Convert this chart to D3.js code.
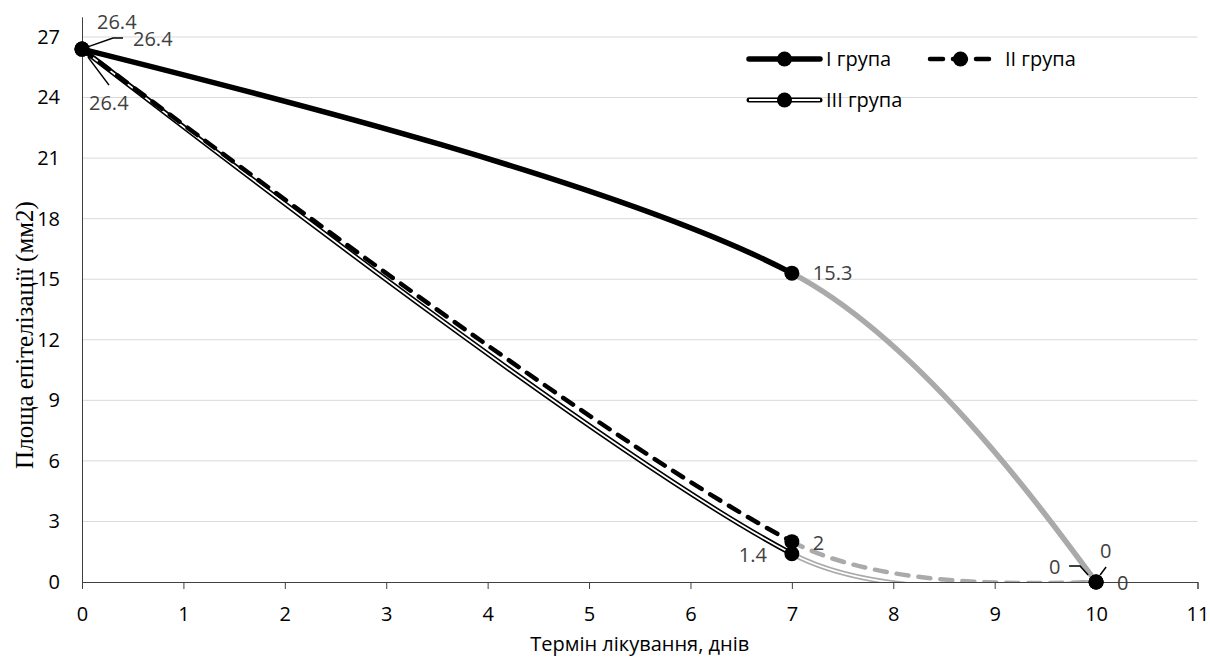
<!DOCTYPE html>
<html>
<head>
<meta charset="UTF-8">
<title>Площа епітелізації</title>
<script src="https://cdn.jsdelivr.net/npm/d3@7"></script>
<style>
body{margin:0;background:#fff;}
text{font-family:"Open Sans",sans-serif;}
</style>
</head>
<body>
<script>
// дані
var days=[0,7,10];
var group1=[26.4,15.3,0];
var group2=[26.4,2,0];
var group3=[26.4,1.4,0];
var seriesNames=["I група","II група","III група"];
var xTicks=d3.range(0,12);
var yTicks=d3.range(0,28,3);

var width=1210,height=659;
var plotLeft=82,plotRight=1197.5,plotTop=16.8,plotBottom=582;
var grey="#aaaaaa";

var x=d3.scaleLinear().domain([0,11]).range([plotLeft,plotRight]);
var y=d3.scaleLinear().domain([0,28]).range([plotBottom,plotTop]);

var svg=d3.select("body").append("svg")
  .attr("width",width).attr("height",height);

svg.append("defs").append("clipPath").attr("id","plotClip").append("rect")
  .attr("x",plotLeft-10).attr("y",plotTop).attr("width",plotRight-plotLeft+20).attr("height",plotBottom-plotTop);

// сітка
svg.append("g").selectAll("line").data(yTicks.filter(function(d){return d>0;}))
  .enter().append("line")
  .attr("x1",plotLeft).attr("x2",plotRight)
  .attr("y1",function(d){return y(d);}).attr("y2",function(d){return y(d);})
  .attr("stroke","#d9d9d9").attr("stroke-width",1);

// осі
var xAxis=svg.append("g").attr("transform","translate(0,"+plotBottom+")")
  .call(d3.axisBottom(x).tickValues(xTicks).tickSize(7).tickPadding(18).tickSizeOuter(7));
xAxis.select(".domain").attr("stroke","#404040");
xAxis.selectAll(".tick line").attr("stroke","#404040");
xAxis.selectAll("text").attr("font-size","20px").attr("fill","#000")
  .attr("font-family","Open Sans");

var yAxis=svg.append("g").attr("transform","translate("+plotLeft+",0)")
  .call(d3.axisLeft(y).tickValues(yTicks).tickSize(0).tickPadding(22));
yAxis.select(".domain").attr("stroke","#404040");
yAxis.selectAll("text").attr("font-size","20px").attr("fill","#000")
  .attr("font-family","Open Sans");

// згладжування як в Excel: кожен відрізок - окрема крива Безьє
function dist(a,b){return Math.hypot(b[0]-a[0],b[1]-a[1]);}
function smoothSegments(p){
  var n=p.length,segs=[];
  for(var i=0;i<n-1;i++){
    var a=p[i],b=p[i+1],c1=null,c2=null,d=dist(a,b);
    if(i>0){
      var f=Math.min(1/6,d/(dist(p[i-1],a)+d)/3);
      c1=[a[0]+(b[0]-p[i-1][0])*f,a[1]+(b[1]-p[i-1][1])*f];
    }
    if(i<n-2){
      var g=Math.min(1/6,d/(d+dist(b,p[i+2]))/3);
      c2=[b[0]-(p[i+2][0]-a[0])*g,b[1]-(p[i+2][1]-a[1])*g];
    }
    if(!c1&&!c2){c1=[a[0]+(b[0]-a[0])/3,a[1]+(b[1]-a[1])/3];c2=[b[0]-(b[0]-a[0])/3,b[1]-(b[1]-a[1])/3];}
    if(!c1)c1=[a[0]+(c2[0]-a[0])/3,a[1]+(c2[1]-a[1])/3];
    if(!c2)c2=[b[0]+(c1[0]-b[0])/3,b[1]+(c1[1]-b[1])/3];
    var path=d3.path();
    path.moveTo(a[0],a[1]);
    path.bezierCurveTo(c1[0],c1[1],c2[0],c2[1],b[0],b[1]);
    segs.push(path.toString());
  }
  return segs;
}

function pts(vals){return days.map(function(d,i){return [d,vals[i]];});}
function pix(vals){return pts(vals).map(function(d){return [x(d[0]),y(d[1])];});}

var lines=svg.append("g").attr("clip-path","url(#plotClip)");
function drawSeries(vals,style){
  smoothSegments(pix(vals)).forEach(function(seg,i){
    var col=i==0?"#000":grey;
    if(style=="solid"){
      lines.append("path").attr("d",seg).attr("fill","none")
        .attr("stroke",col).attr("stroke-width",5.5);
    }else if(style=="dash"){
      lines.append("path").attr("d",seg).attr("fill","none")
        .attr("stroke",col).attr("stroke-width",4.5)
        .attr("stroke-dasharray","12 10").attr("stroke-linecap","round");
    }else{
      lines.append("path").attr("d",seg).attr("fill","none")
        .attr("stroke",col).attr("stroke-width",5);
      lines.append("path").attr("d",seg).attr("fill","none")
        .attr("stroke","#fff").attr("stroke-width",1.8);
    }
  });
}
drawSeries(group3,"double");
drawSeries(group2,"dash");
drawSeries(group1,"solid");

// маркери
[group3,group2,group1].forEach(function(vals){
  svg.append("g").selectAll("circle").data(pts(vals)).enter().append("circle")
    .attr("cx",function(d){return x(d[0]);})
    .attr("cy",function(d){return y(d[1]);})
    .attr("r",7.5).attr("fill","#000");
});

// підписи даних
var labels=[
  {v:group1[0],px:0,py:group1[0],dx:15,dy:-27,anchor:"start"},
  {v:group1[1],px:7,py:group1[1],dx:21,dy:0,anchor:"start"},
  {v:group1[2],px:10,py:group1[2],dx:21,dy:1,anchor:"start"},
  {v:group2[0],px:0,py:group2[0],dx:51,dy:-10,anchor:"start",lead:[[5,-2],[31,-11],[41,-11]]},
  {v:group2[1],px:7,py:group2[1],dx:21,dy:1,anchor:"start"},
  {v:group2[2],px:10,py:group2[2],dx:4,dy:-31,anchor:"start",lead:[[4,-7],[10,-15]]},
  {v:group3[0],px:0,py:group3[0],dx:7,dy:54,anchor:"start",lead:[[6,8],[27,36]]},
  {v:group3[1],px:7,py:group3[1],dx:-25,dy:1,anchor:"end"},
  {v:group3[2],px:10,py:group3[2],dx:-47,dy:-15,anchor:"start",lead:[[-8,-7],[-16,-16],[-27,-16]]}
];
var lg=svg.append("g");
labels.forEach(function(l){
  var cx=x(l.px),cy=y(l.py);
  if(l.lead){
    lg.append("polyline")
      .attr("points",l.lead.map(function(p){return (cx+p[0])+","+(cy+p[1]);}).join(" "))
      .attr("fill","none").attr("stroke","#000").attr("stroke-width",1.5);
  }
  lg.append("text").attr("x",cx+l.dx).attr("y",cy+l.dy)
    .attr("dy","0.35em").attr("text-anchor",l.anchor)
    .attr("font-size","20px").attr("fill","#404040").text(l.v);
});

// легенда
var legendPos=[[749,59],[928,59],[749,100]];
var legendStyle=["solid","dash","double"];
var leg=svg.append("g");
seriesNames.forEach(function(n,i){
  var lx=legendPos[i][0],ly=legendPos[i][1],w=i==1?65:71;
  var g=leg.append("g");
  if(legendStyle[i]=="solid"){
    g.append("line").attr("x1",lx).attr("x2",lx+w).attr("y1",ly).attr("y2",ly)
      .attr("stroke","#000").attr("stroke-width",5.5).attr("stroke-linecap","round");
  }else if(legendStyle[i]=="dash"){
    g.append("line").attr("x1",lx+2).attr("x2",lx+w).attr("y1",ly).attr("y2",ly)
      .attr("stroke","#000").attr("stroke-width",4.5).attr("stroke-linecap","round")
      .attr("stroke-dasharray","13 10");
  }else{
    g.append("line").attr("x1",lx).attr("x2",lx+w).attr("y1",ly).attr("y2",ly)
      .attr("stroke","#000").attr("stroke-width",5).attr("stroke-linecap","round");
    g.append("line").attr("x1",lx).attr("x2",lx+w).attr("y1",ly).attr("y2",ly)
      .attr("stroke","#fff").attr("stroke-width",1.8);
  }
  g.append("circle").attr("cx",lx+w/2).attr("cy",ly).attr("r",7.5).attr("fill","#000");
  g.append("text").attr("x",lx+w+(i==1?12:6)).attr("y",ly).attr("dy","0.35em")
    .attr("font-size","20px").attr("fill","#000").text(n);
});

// назви осей
svg.append("text").attr("x",(plotLeft+plotRight)/2).attr("y",644).attr("dy","0.35em")
  .attr("text-anchor","middle").attr("font-size","20px").attr("fill","#000")
  .text("Термін лікування, днів");
svg.append("text")
  .attr("transform","translate(24,335) rotate(-90)")
  .attr("dy","0.35em").attr("text-anchor","middle")
  .attr("style","font-family:'Liberation Serif','DejaVu Serif',serif")
  .attr("font-size","25px").attr("fill","#000")
  .text("Площа епітелізації (мм2)");
</script>
</body>
</html>
